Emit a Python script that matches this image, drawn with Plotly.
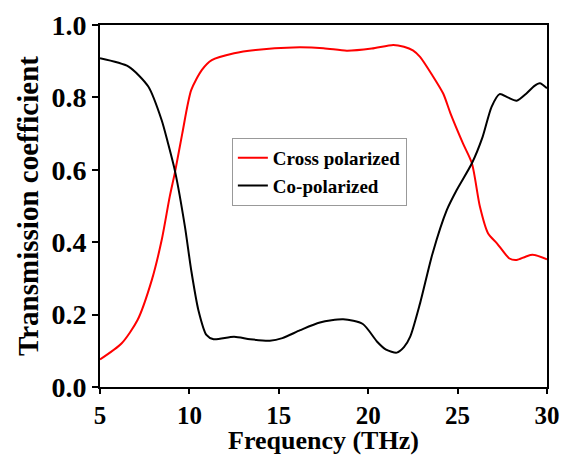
import plotly.graph_objects as go

freq_cross = [5.0, 6.2, 7.1, 7.9, 8.45, 8.9, 9.2, 9.6, 10.1, 10.7, 11.25, 12.5, 13.7, 15.8, 17.5, 18.8, 20.2, 21.4, 22.0, 22.5, 22.9, 23.6, 24.2, 24.6, 25.3, 25.8, 26.25, 26.7, 27.2, 27.9, 28.3, 28.8, 29.2, 30.0]
trans_cross = [0.076, 0.12, 0.185, 0.296, 0.406, 0.526, 0.595, 0.70, 0.82, 0.876, 0.903, 0.922, 0.931, 0.938, 0.936, 0.929, 0.935, 0.945, 0.94, 0.93, 0.912, 0.86, 0.81, 0.756, 0.673, 0.618, 0.498, 0.425, 0.397, 0.355, 0.351, 0.36, 0.365, 0.353]

freq_co = [5.0, 6.6, 7.7, 8.45, 8.8, 9.2, 9.75, 10.1, 10.5, 10.95, 11.35, 12.5, 13.4, 14.5, 15.2, 16.2, 17.3, 18.6, 19.7, 20.5, 21.0, 21.6, 22.0, 22.35, 22.9, 23.6, 24.4, 24.95, 25.8, 26.4, 26.9, 27.35, 27.8, 28.3, 28.85, 29.3, 29.6, 30.0]
trans_co = [0.908, 0.885, 0.83, 0.737, 0.674, 0.595, 0.443, 0.323, 0.213, 0.144, 0.132, 0.139, 0.132, 0.128, 0.135, 0.157, 0.178, 0.187, 0.174, 0.125, 0.103, 0.095, 0.11, 0.139, 0.231, 0.369, 0.489, 0.544, 0.618, 0.691, 0.774, 0.809, 0.80, 0.791, 0.811, 0.832, 0.839, 0.825]

x_ticks = [5, 10, 15, 20, 25, 30]
y_ticks = [0.0, 0.2, 0.4, 0.6, 0.8, 1.0]

font_family = "Liberation Serif"

fig = go.Figure()
fig.add_trace(go.Scatter(x=freq_cross, y=trans_cross, mode="lines", name="<b>Cross polarized</b>",
                         line=dict(color="#ff0000", width=2, shape="spline", smoothing=0.7)))
fig.add_trace(go.Scatter(x=freq_co, y=trans_co, mode="lines", name="<b>Co-polarized</b>",
                         line=dict(color="#000000", width=2, shape="spline", smoothing=0.7)))

fig.update_layout(
    width=566, height=457,
    margin=dict(l=100, r=19, t=25, b=70, autoexpand=False),
    paper_bgcolor="white", plot_bgcolor="white",
    font=dict(family=font_family, color="black"),
    showlegend=True,
    legend=dict(x=0.295, y=0.688, xanchor="left", yanchor="top",
                bgcolor="white", bordercolor="#999999", borderwidth=1,
                font=dict(family=font_family, size=19, color="black"),
                itemwidth=30, tracegroupgap=0),
    annotations=[dict(text="<b>Frequency (THz)</b>", xref="paper", yref="paper",
                      x=0.5, y=-(440 - 387) / 362, xanchor="center", yanchor="middle",
                      showarrow=False, font=dict(family=font_family, size=26, color="black"))],
)
fig.update_xaxes(
    range=[5, 30], tickvals=x_ticks, ticktext=["<b>%d</b>" % v for v in x_ticks],
    showline=True, linecolor="black", linewidth=2, mirror=True,
    ticks="outside", ticklen=5, tickwidth=2, tickcolor="black",
    showgrid=False, zeroline=False, automargin=False,
    tickfont=dict(family=font_family, size=25, color="black"),
)
fig.update_yaxes(
    range=[0, 1.0], tickvals=y_ticks, ticktext=["<b>%.1f</b>" % v for v in y_ticks],
    showline=True, linecolor="black", linewidth=2, mirror=True,
    ticks="outside", ticklen=6, tickwidth=2, tickcolor="black",
    showgrid=False, zeroline=False, automargin=False,
    tickfont=dict(family=font_family, size=28, color="black"),
    title=dict(text="<b>Transmission coefficient</b>", font=dict(family=font_family, size=29, color="black"), standoff=4),
)

fig.write_html("out.html")
